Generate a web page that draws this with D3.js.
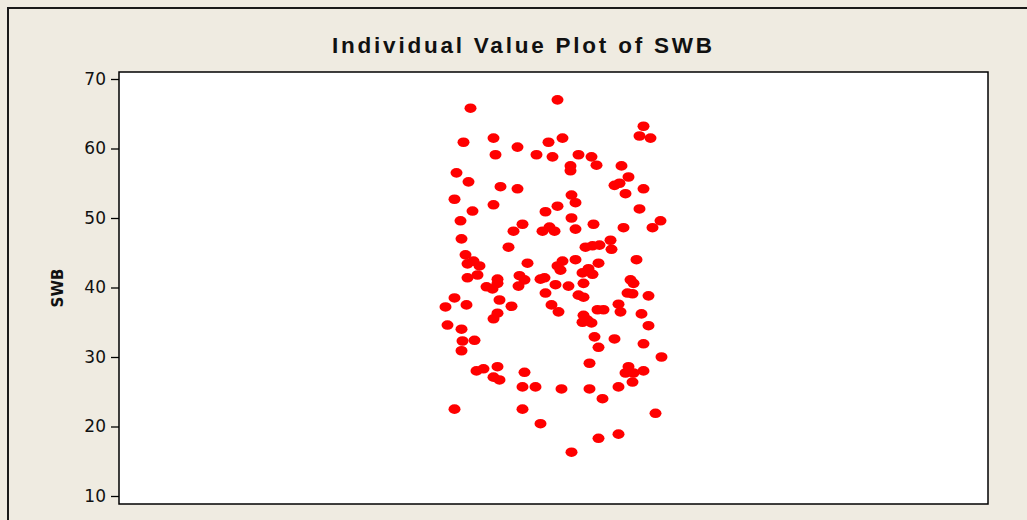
<!DOCTYPE html>
<html>
<head>
<meta charset="utf-8">
<script src="https://cdn.jsdelivr.net/npm/d3@7/dist/d3.min.js"></script>
<style>
  html, body { margin: 0; padding: 0; background: #efebe1; }
  svg { display: block; }
</style>
</head>
<body>
<svg id="chart" width="1027" height="520"></svg>
<script>
// ---- data ----
const titleText = "Individual Value Plot of SWB";
const yLabel = "SWB";
const yTicks = [10, 20, 30, 40, 50, 60, 70];
const swbValues = [
  65.8, 67.0, 60.9, 61.5, 60.2, 60.9, 59.1, 59.1, 58.8, 56.5,
  55.2, 54.5, 54.2, 52.7, 63.2, 61.5, 61.8, 61.5, 59.1, 58.8,
  57.5, 56.8, 57.6, 57.5, 55.9, 54.7, 55.0, 54.2, 53.5, 53.3,
  51.0, 51.9, 50.9, 51.7, 49.6, 49.1, 48.1, 48.1, 48.7, 48.1,
  47.0, 45.8, 44.7, 43.4, 43.8, 43.1, 41.4, 41.8, 43.5, 41.2,
  40.6, 41.7, 41.1, 41.2, 41.4, 40.1, 39.8, 40.2, 39.2, 38.5,
  38.2, 52.2, 51.3, 50.0, 49.1, 48.6, 49.6, 48.6, 48.4, 45.8,
  46.0, 46.1, 46.8, 45.5, 44.0, 44.0, 43.8, 42.5, 43.1, 43.5,
  42.7, 41.9, 42.1, 40.4, 40.2, 40.6, 41.1, 40.6, 38.9, 38.6,
  39.2, 39.1, 38.8, 37.5, 37.2, 37.3, 37.5, 36.5, 36.3, 35.5,
  34.6, 34.0, 32.3, 32.4, 30.9, 28.0, 28.3, 28.6, 27.1, 26.7,
  27.8, 25.7, 25.7, 25.4, 25.4, 25.7, 24.0, 36.0, 35.0, 35.3,
  34.9, 36.8, 36.8, 37.6, 36.5, 36.2, 34.5, 32.9, 32.6, 31.4,
  31.9, 29.1, 30.0, 28.6, 27.7, 27.7, 28.0, 26.4, 22.5, 22.5,
  21.9, 20.4, 18.9, 18.3, 16.3
];
// horizontal jitter offsets, -1 .. 1 around the group centre
const jitter = [
  -0.83, 0.04, -0.90, -0.60, -0.36, -0.05, -0.58, -0.17, -0.01, -0.97,
  -0.85, -0.53, -0.36, -0.99, 0.90, 0.09, 0.86, 0.97, 0.25, 0.38,
  0.17, 0.17, 0.43, 0.68, 0.75, 0.61, 0.66, 0.90, 0.72, 0.18,
  -0.81, -0.60, -0.08, 0.04, -0.93, -0.31, -0.40, -0.11, -0.04, 0.01,
  -0.92, -0.45, -0.88, -0.86, -0.80, -0.74, -0.86, -0.76, -0.26, -0.56,
  -0.56, -0.34, -0.29, -0.13, -0.09, -0.67, -0.61, -0.35, -0.08, -0.99,
  -0.54, 0.22, 0.86, 0.18, 0.40, 0.70, 1.07, 0.99, 0.22, 0.32,
  0.39, 0.46, 0.57, 0.58, 0.83, 0.22, 0.09, 0.07, 0.04, 0.45,
  0.35, 0.39, 0.29, 0.02, 0.15, 0.30, 0.77, 0.80, 0.25, 0.30,
  0.74, 0.79, 0.95, -0.87, -1.08, -0.42, -0.02, 0.05, -0.56, -0.60,
  -1.06, -0.92, -0.91, -0.79, -0.92, -0.77, -0.70, -0.56, -0.60, -0.54,
  -0.29, -0.31, -0.18, 0.08, 0.36, 0.65, 0.49, 0.30, 0.29, 0.34,
  0.38, 0.44, 0.50, 0.65, 0.67, 0.88, 0.95, 0.41, 0.61, 0.45,
  0.90, 0.36, 1.08, 0.75, 0.72, 0.80, 0.90, 0.79, -0.99, -0.31,
  1.02, -0.13, 0.65, 0.45, 0.18
];

// ---- layout ----
const svg = d3.select("#chart");
const W = 1027, H = 520;
const plot = { left: 119, top: 72, right: 988, bottom: 504 };

// outer frame
svg.append("rect")
  .attr("x", 8).attr("y", 8)
  .attr("width", W + 50).attr("height", H + 50)
  .attr("fill", "#efebe1")
  .attr("stroke", "#1a1a1a").attr("stroke-width", 2);

// plot area
svg.append("rect")
  .attr("x", plot.left).attr("y", plot.top)
  .attr("width", plot.right - plot.left).attr("height", plot.bottom - plot.top)
  .attr("fill", "#ffffff")
  .attr("stroke", "#000").attr("stroke-width", 1.5);

// scales
const y = d3.scaleLinear().domain([10, 70]).range([496, 79]);
const cx = (plot.left + plot.right) / 2;
const x = d3.scaleLinear().domain([-1, 1]).range([cx - 100, cx + 100]);

// axis
const yAxis = d3.axisLeft(y).tickValues(yTicks).tickSize(8).tickPadding(5).tickSizeOuter(0);
const gy = svg.append("g").attr("transform", `translate(${plot.left},0)`).call(yAxis);
gy.select(".domain").remove();
gy.selectAll(".tick line").attr("stroke", "#000").attr("stroke-width", 1.3);
gy.selectAll(".tick text")
  .attr("fill", "#111")
  .style("font-family", "'DejaVu Sans', Verdana, sans-serif")
  .style("font-size", "17px");

// title
svg.append("text")
  .attr("x", 522).attr("y", 53)
  .attr("text-anchor", "middle")
  .attr("textLength", 380)
  .attr("lengthAdjust", "spacing")
  .style("font-family", "'Liberation Sans', Arial, sans-serif")
  .style("font-weight", "bold")
  .style("font-size", "22.5px")
  .attr("fill", "#111")
  .text(titleText);

// y label
svg.append("text")
  .attr("transform", `translate(63,288) rotate(-90)`)
  .attr("text-anchor", "middle")
  .style("font-family", "'DejaVu Sans', Verdana, sans-serif")
  .style("font-weight", "bold")
  .style("font-size", "15px")
  .attr("fill", "#111")
  .text(yLabel);

// points
const pts = swbValues.map((v, i) => ({ v, j: jitter[i] }));
svg.append("g").selectAll("ellipse")
  .data(pts)
  .enter().append("ellipse")
  .attr("cx", d => x(d.j))
  .attr("cy", d => y(d.v))
  .attr("rx", 6)
  .attr("ry", 4.8)
  .attr("fill", "#ff0000");
</script>
</body>
</html>
